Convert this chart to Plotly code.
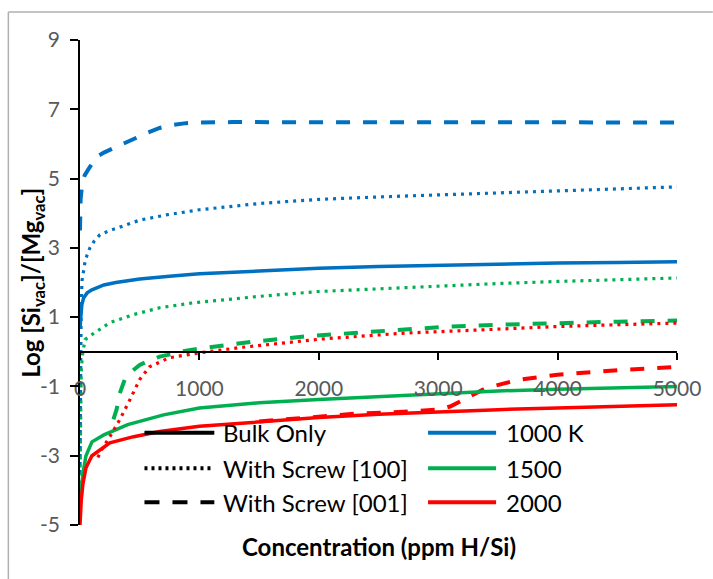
import plotly.graph_objects as go

# ---------------- data ----------------
# 1000 K
x_b_bulk = [0, 5, 15, 30, 60, 100, 150, 200, 300, 500, 750, 1000, 1500, 2000, 2500, 3000, 3500, 4000, 4500, 5000]
y_b_bulk = [0.7, 1.1, 1.35, 1.55, 1.7, 1.79, 1.87, 1.93, 2.0, 2.1, 2.18, 2.25, 2.33, 2.41, 2.46, 2.5, 2.53, 2.56, 2.58, 2.6]
x_b_100 = [0, 2, 5, 10, 17, 30, 42, 60, 83, 120, 167, 250, 333, 500, 722, 1000, 1500, 2000, 2500, 3000, 3500, 4000, 4500, 5000]
y_b_100 = [-3.5, -1.0, 0.5, 1.4, 2.05, 2.4, 2.6, 2.8, 3.0, 3.2, 3.38, 3.5, 3.6, 3.8, 3.95, 4.1, 4.28, 4.4, 4.47, 4.53, 4.6, 4.65, 4.71, 4.76]
x_b_001 = [0, 5, 20, 40, 67, 100, 139, 200, 250, 350, 444, 550, 667, 780, 889, 1000, 1278, 1500, 2000, 3000, 4000, 4500, 5000]
y_b_001 = [3.5, 4.4, 4.9, 5.1, 5.25, 5.45, 5.63, 5.75, 5.83, 6.0, 6.12, 6.3, 6.46, 6.55, 6.6, 6.62, 6.63, 6.63, 6.63, 6.63, 6.62, 6.61, 6.62]
# 1500 K
x_g_bulk = [0, 10, 25, 50, 100, 200, 400, 700, 1000, 1500, 2000, 2500, 3000, 3500, 4000, 4500, 5000]
y_g_bulk = [-4.65, -4.0, -3.5, -3.0, -2.6, -2.4, -2.1, -1.82, -1.62, -1.47, -1.38, -1.29, -1.2, -1.13, -1.08, -1.03, -1.0]
x_g_100 = [0, 5, 10, 20, 42, 80, 139, 250, 444, 667, 944, 1200, 1500, 2000, 2500, 3000, 3500, 4000, 4500, 5000]
y_g_100 = [-3.8, -1.5, -0.6, -0.1, 0.35, 0.45, 0.58, 0.84, 1.07, 1.27, 1.41, 1.5, 1.6, 1.74, 1.82, 1.9, 1.97, 2.03, 2.08, 2.13]
x_g_001 = [280, 306, 333, 375, 440, 500, 556, 667, 778, 833, 1000, 1222, 1444, 1933, 2444, 3056, 3500, 4000, 4500, 5000]
y_g_001 = [-1.95, -1.67, -1.2, -0.8, -0.55, -0.38, -0.29, -0.14, -0.06, 0.0, 0.09, 0.2, 0.29, 0.46, 0.58, 0.72, 0.78, 0.83, 0.87, 0.9]
# 2000 K
x_r_bulk = [0, 10, 25, 50, 100, 250, 450, 667, 1000, 1500, 2000, 2500, 3000, 3500, 4000, 4500, 5000]
y_r_bulk = [-5.0, -4.3, -3.8, -3.35, -3.0, -2.63, -2.45, -2.3, -2.15, -2.02, -1.9, -1.8, -1.73, -1.67, -1.62, -1.57, -1.53]
x_r_100 = [150, 181, 250, 333, 417, 500, 583, 750, 1000, 1361, 2028, 2722, 3278, 4000, 4500, 5000]
y_r_100 = [-3.05, -2.83, -2.45, -1.96, -1.39, -0.8, -0.43, -0.17, -0.03, 0.13, 0.37, 0.54, 0.62, 0.73, 0.78, 0.83]
x_r_001 = [1500, 2000, 2300, 2600, 3000, 3100, 3250, 3400, 3667, 4000, 4500, 5000]
y_r_001 = [-2.01, -1.89, -1.79, -1.75, -1.67, -1.58, -1.33, -1.05, -0.81, -0.66, -0.53, -0.44]

y_ticks = [-5, -3, -1, 1, 3, 5, 7, 9]
x_ticks = [0, 1000, 2000, 3000, 4000, 5000]

legend_styles = ["Bulk Only", "With Screw [100]", "With Screw [001]"]
legend_temps = ["1000 K", "1500", "2000"]

BLUE, GREEN, RED = "#0070C0", "#00B050", "#FF0000"
DOT = "3px,5px"
DASH = "14px,13px"

FONT = "Lato"

fig = go.Figure()

def add(x, y, color, width, dash):
    fig.add_trace(go.Scatter(x=x, y=y, mode="lines",
                             line=dict(color=color, width=width, dash=dash),
                             showlegend=False, hoverinfo="skip"))

add(x_r_001, y_r_001, RED, 4, DASH)
add(x_b_bulk, y_b_bulk, BLUE, 3.5, "solid")
add(x_b_100, y_b_100, BLUE, 3.2, DOT)
add(x_b_001, y_b_001, BLUE, 4, DASH)
add(x_g_bulk, y_g_bulk, GREEN, 3.5, "solid")
add(x_g_100, y_g_100, GREEN, 3.2, DOT)
add(x_g_001, y_g_001, GREEN, 4, DASH)
add(x_r_bulk, y_r_bulk, RED, 3.5, "solid")
add(x_r_100, y_r_100, RED, 3.2, DOT)

shapes = []
annotations = []

# manual legend
row_y = [0.190, 0.117, 0.047]
for i, name in enumerate(legend_styles):
    d = ["solid", "3px,4px", "15px,13px"][i]
    shapes.append(dict(type="line", xref="paper", yref="paper",
                       x0=0.108, x1=0.225, y0=row_y[i], y1=row_y[i],
                       line=dict(color="black", width=4, dash=d)))
    annotations.append(dict(xref="paper", yref="paper", x=0.236, y=row_y[i],
                            text=name, showarrow=False, xanchor="left", yanchor="middle",
                            font=dict(family=FONT, size=24, color="black")))
for i, name in enumerate(legend_temps):
    shapes.append(dict(type="line", xref="paper", yref="paper",
                       x0=0.583, x1=0.697, y0=row_y[i], y1=row_y[i],
                       line=dict(color=[BLUE, GREEN, RED][i], width=4)))
    annotations.append(dict(xref="paper", yref="paper", x=0.710, y=row_y[i],
                            text=name, showarrow=False, xanchor="left", yanchor="middle",
                            font=dict(family=FONT, size=24, color="black")))

# axis titles
annotations.append(dict(xref="paper", yref="paper", x=0.5, y=-0.045,
                        text="<b>Concentration (ppm H/Si)</b>", showarrow=False,
                        xanchor="center", yanchor="middle",
                        font=dict(family=FONT, size=24, color="black")))
annotations.append(dict(xref="paper", yref="paper", x=-0.08, y=0.5,
                        text="<b>Log [Si<sub>vac</sub>]/[Mg<sub>vac</sub>]</b>", showarrow=False,
                        textangle=-90, xanchor="center", yanchor="middle",
                        font=dict(family=FONT, size=24, color="black")))

# chart-area border (left and top visible)
shapes.append(dict(type="line", xref="paper", yref="paper", x0=-0.12, x1=-0.12,
                   y0=-0.12, y1=1.0577, line=dict(color="#b0b0b0", width=1.5)))
shapes.append(dict(type="line", xref="paper", yref="paper", x0=-0.12, x1=1.06,
                   y0=1.0577, y1=1.0577, line=dict(color="#b0b0b0", width=1.5)))

fig.update_layout(
    width=713, height=579,
    margin=dict(l=80, r=33, t=40, b=54),
    plot_bgcolor="white", paper_bgcolor="white",
    shapes=shapes, annotations=annotations,
    showlegend=False,
    font=dict(family=FONT),
)
fig.update_xaxes(range=[0, 5000], tickvals=x_ticks, ticktext=[str(v) for v in x_ticks],
                 showgrid=False, zeroline=False, showline=True, linecolor="black", linewidth=1.5,
                 ticks="outside", ticklen=7, tickwidth=1.5, tickcolor="black",
                 anchor="free", position=5 / 14, ticklabelstandoff=11,
                 tickfont=dict(family=FONT, size=21, color="#595959"))
fig.update_yaxes(range=[-5, 9], tickvals=y_ticks, ticktext=[str(v) for v in y_ticks],
                 showgrid=False, zeroline=False, showline=True, linecolor="black", linewidth=1.5,
                 ticks="outside", ticklen=8, tickwidth=1.5, tickcolor="black",
                 ticklabelstandoff=6,
                 tickfont=dict(family=FONT, size=21, color="#595959"))

fig.write_html("out.html")
